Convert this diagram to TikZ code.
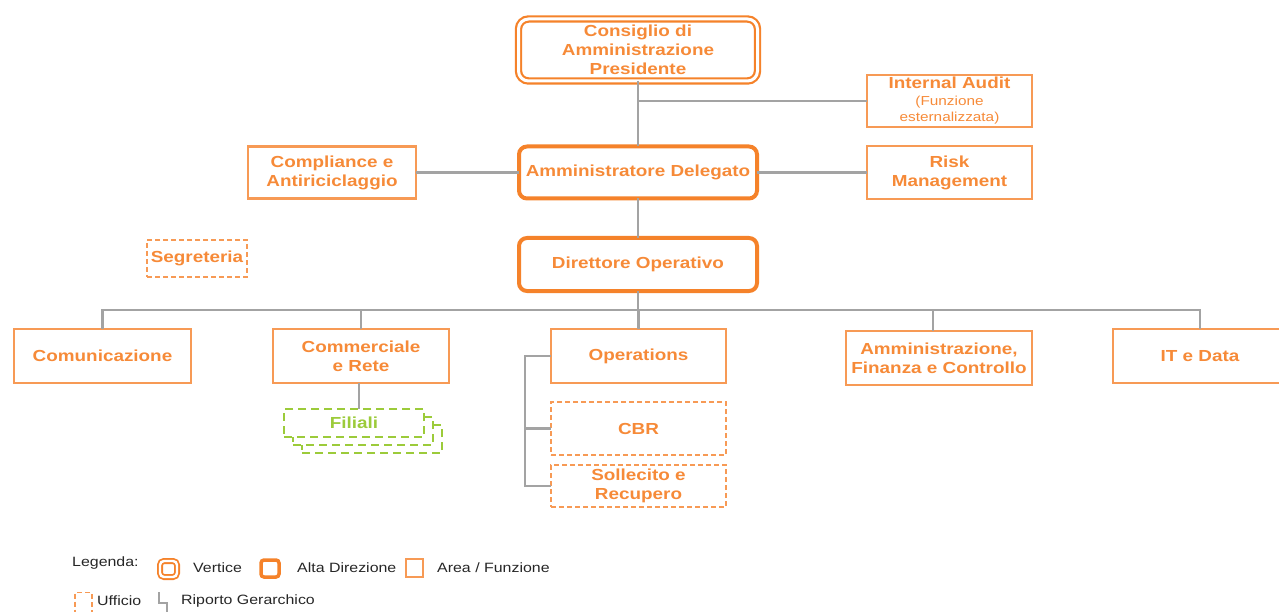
\documentclass[tikz,border=0pt]{standalone}
\usepackage{fontspec}
\setmainfont{Liberation Sans}
\newfontfamily\bfam[FakeStretch=1.18]{Liberation Sans}
\definecolor{orthin}{HTML}{F79A55}
\definecolor{orthick}{HTML}{F5822A}
\definecolor{ortext}{HTML}{F68A38}
\definecolor{lgray}{HTML}{A3A3A3}
\definecolor{lgreen}{HTML}{9CCB3A}
\definecolor{legtext}{HTML}{262626}
\newcommand\boxtxt{\bfam\bfseries\fontsize{16}{19}\selectfont}
\newcommand\smalltxt{\bfam\mdseries\fontsize{13}{15}\selectfont}
\newcommand\legtxt{\bfam\mdseries\fontsize{13.5}{16}\selectfont}
\begin{document}
\begin{tikzpicture}[x=1pt,y=-1pt,
  box/.style={inner sep=0pt, outer sep=0pt, align=center, text=ortext, font=\boxtxt},
  area/.style={box, draw=orthin, line width=2.3pt},
  ufficio/.style={area, line width=2pt, dash pattern=on 5pt off 3pt},
  alta/.style={box, draw=orthick, line width=4pt, rounded corners=8pt},
  vertice/.style={box, draw=orthick, line width=2.2pt, double=white, double distance=3pt, rounded corners=10pt},
  link/.style={draw=lgray, line width=2.2pt},
  filiale/.style={draw=lgreen, line width=2.8pt, dash pattern=on 8pt off 5pt, fill=white, minimum width=140pt, minimum height=28pt, inner sep=0pt, outer sep=0pt},
  legend/.style={anchor=west, inner sep=0pt, text=legtext, font=\legtxt}]
\useasboundingbox (0,0) rectangle (1279,612);

% top level
\node[vertice, minimum width=239pt, minimum height=62pt] (cda) at (638,50) {Consiglio di\\Amministrazione\\Presidente};
\node[area, minimum width=165pt, minimum height=52pt] (ia) at (949.5,101) {Internal Audit\\[-2pt]{\smalltxt (Funzione}\\[-3pt]{\smalltxt esternalizzata)}};
\node[area, minimum width=168pt, minimum height=52pt] (comp) at (332,172.5) {Compliance e\\Antiriciclaggio};
\node[alta, minimum width=238pt, minimum height=52pt] (ad) at (638,172.5) {Amministratore Delegato};
\node[area, minimum width=165pt, minimum height=53pt] (risk) at (949.5,172.5) {Risk\\Management};
\node[alta, minimum width=238pt, minimum height=53pt] (do) at (638,264.5) {Direttore Operativo};
\node[ufficio, minimum width=100pt, minimum height=37pt] (seg) at (197,258.5) {Segreteria};

% second level
\node[area, minimum width=177pt, minimum height=54pt] (com) at (102.5,356) {Comunicazione};
\node[area, minimum width=176pt, minimum height=54pt] (comm) at (361,356) {Commerciale\\e Rete};
\node[area, minimum width=175pt, minimum height=54pt] (ops) at (638.5,356) {Operations};
\node[ufficio, minimum width=175pt, minimum height=53pt] (cbr) at (638.5,428.5) {CBR};
\node[ufficio, minimum width=175pt, minimum height=42pt] (sol) at (638.5,486) {Sollecito e\\Recupero};
\node[area, minimum width=186pt, minimum height=54pt] (afc) at (939,358) {Amministrazione,\\Finanza e Controllo};
\node[area, minimum width=174pt, minimum height=54pt] (it) at (1200,356) {IT e Data};

% Filiali stack
\node[filiale] (fil3) at (372,439) {};
\node[filiale] (fil2) at (363,431) {};
\node[filiale, text=lgreen, font=\boxtxt] (fil) at (354,423) {Filiali};

% connectors
\draw[link] (cda.south) -- (ad.north);
\draw[link] (cda.south |- ia.west) -- (ia.west);
\draw[link] (comp.east) -- (ad.west);
\draw[link] (ad.east) -- (risk.west);
\draw[link] (ad.south) -- (do.north);
\coordinate (bus) at (638,310);
\draw[link] (do.south) -- (bus);
\draw[link] (com.north) |- (bus) -| (it.north);
\draw[link] (comm.north) -- (comm.north |- bus);
\draw[link] (ops.north) -- (ops.north |- bus);
\draw[link] ([xshift=-6pt]afc.north) -- ([xshift=-6pt]afc.north |- bus);
\draw[link] ([xshift=-2pt]comm.south) -- ([xshift=-2pt]comm.south |- fil.north);
\coordinate (ob) at (525,0);
\draw[link] (ops.west) -- (ops.west -| ob) |- (sol.west);
\draw[link] (cbr.west -| ob) -- (cbr.west);

% legend
\node[legend] (leg) at (72,563) {Legenda:};
\node[vertice, line width=1.8pt, double distance=2.4pt, minimum width=17pt, minimum height=16pt, rounded corners=4pt] (lv) at (168.5,569) {};
\node[legend] (lvt) at (193,568) {Vertice};
\node[alta, line width=3.5pt, minimum width=18pt, minimum height=17pt, rounded corners=3pt] (la) at (270,568.5) {};
\node[legend] (lat) at (297,568) {Alta Direzione};
\node[area, line width=1.8pt, minimum width=17pt, minimum height=18pt] (lf) at (414.5,568) {};
\node[legend] (lft) at (437,568) {Area / Funzione};
\node[ufficio, line width=1.8pt, minimum width=17pt, minimum height=21pt] (lu) at (83.5,603) {};
\node[legend] (lut) at (97,601) {Ufficio};
\draw[lgray, line width=1.2pt] (159,592) -- (159,603) -- (167,603) -- (167,613);
\node[legend] (lrt) at (181,601) {Riporto Gerarchico};
\end{tikzpicture}
\end{document}
